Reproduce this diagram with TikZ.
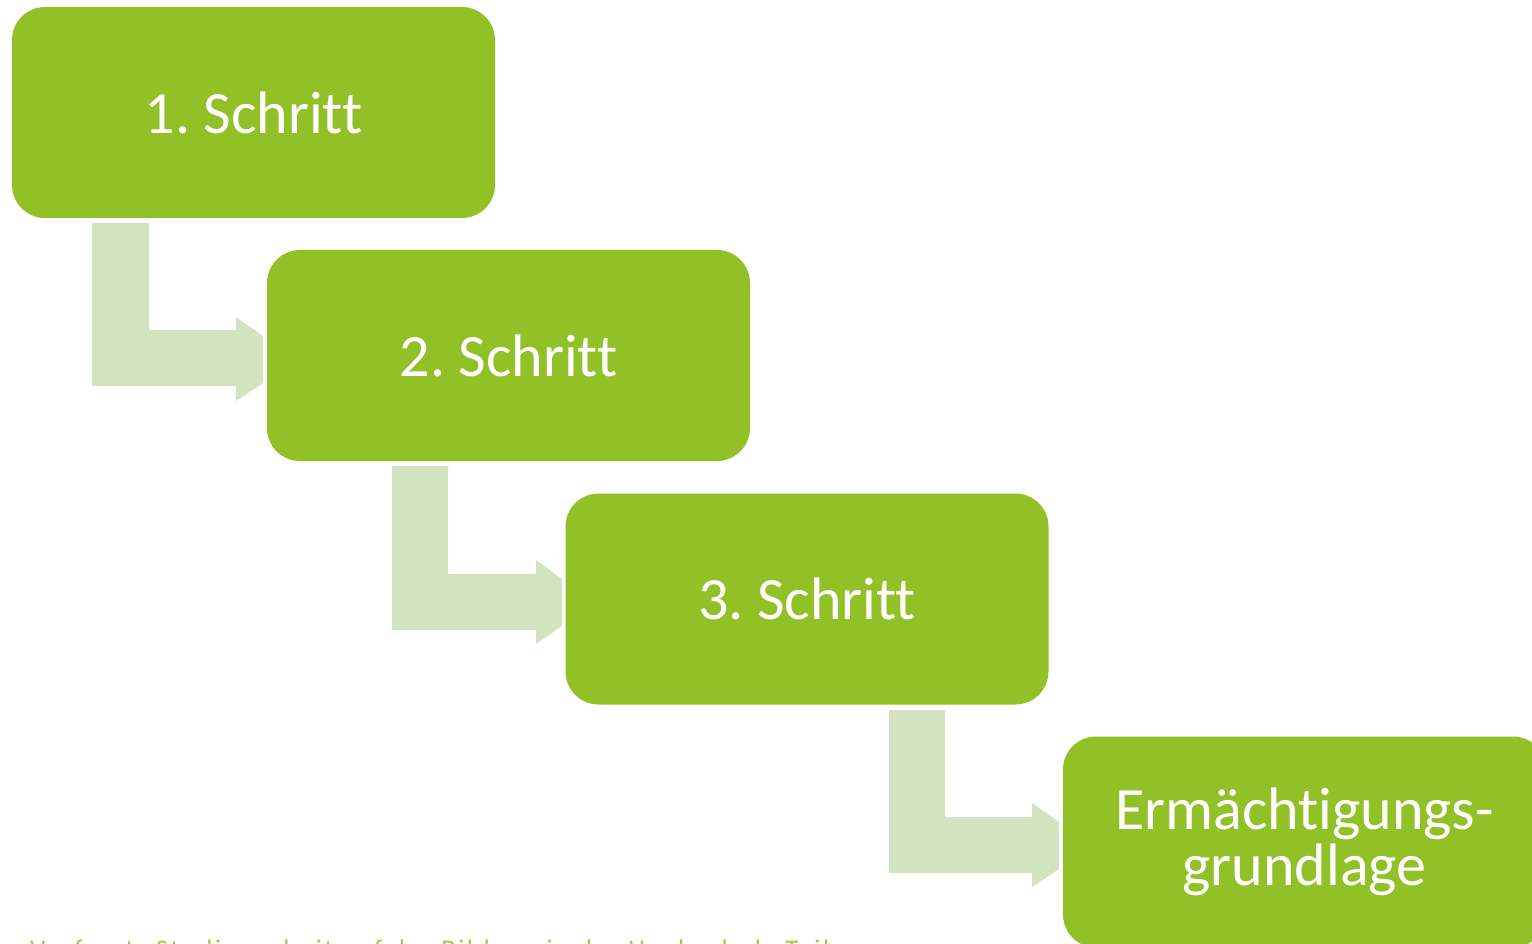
\documentclass[tikz,border=0pt]{standalone}
\usepackage{fontspec}
\setmainfont[Ligatures={NoCommon}]{Carlito}
\newfontfamily\notefont[Ligatures={NoCommon},LetterSpace=9]{Carlito}
\definecolor{boxgreen}{RGB}{146,193,39}
\definecolor{arrowgreen}{RGB}{211,226,191}
\definecolor{notegreen}{RGB}{166,201,74}
\tikzset{
  stepbox/.style={fill=boxgreen, draw=none, rounded corners=33pt, minimum width=483pt, minimum height=211pt, inner sep=0pt, text=white, align=center, font=\fontsize{60}{56}\selectfont},
  bentarrow/.style={fill=arrowgreen, draw=none},
}
\begin{document}
\begin{tikzpicture}[x=1pt,y=-1pt]
\useasboundingbox (0,0) rectangle (1532,944);
\clip (0,0) rectangle (1532,944);
% arrows (behind boxes)
\coordinate (a1) at (92,223);
\fill[bentarrow] (a1) -- ++(57,0) -- ++(0,107) -- ++(87,0) -- ++(0,-13) -- ++(27,19) -- ++(0,47) -- ++(-27,18) -- ++(0,-15) -- ++(-144,0) -- cycle;
\coordinate (a2) at (392,466);
\fill[bentarrow] (a2) -- ++(56,0) -- ++(0,108) -- ++(88,0) -- ++(0,-14) -- ++(26,19) -- ++(0,47) -- ++(-26,18) -- ++(0,-14) -- ++(-144,0) -- cycle;
\coordinate (a3) at (889,710);
\fill[bentarrow] (a3) -- ++(56,0) -- ++(0,107) -- ++(87,0) -- ++(0,-14) -- ++(27,19) -- ++(0,47) -- ++(-27,18) -- ++(0,-14) -- ++(-143,0) -- cycle;
% boxes
\node[stepbox] (s1) at (253.5,112.5) {1.\ Schritt};
\node[stepbox] (s2) at (508.5,355.5) {2.\ Schritt};
\node[stepbox] (s3) at (807,599) {3.\ Schritt};
\node[stepbox] (s4) at (1304.5,842) {Ermächtigungs-\\grundlage};
% footnote (cut off at the bottom edge)
\node[anchor=base west, inner sep=0pt, text=notegreen, font=\notefont\fontsize{27}{27}\selectfont] (note) at (30,958) {Verfasst: Studienarbeit auf der Bildung in der Hochschule Teil};
\end{tikzpicture}
\end{document}
